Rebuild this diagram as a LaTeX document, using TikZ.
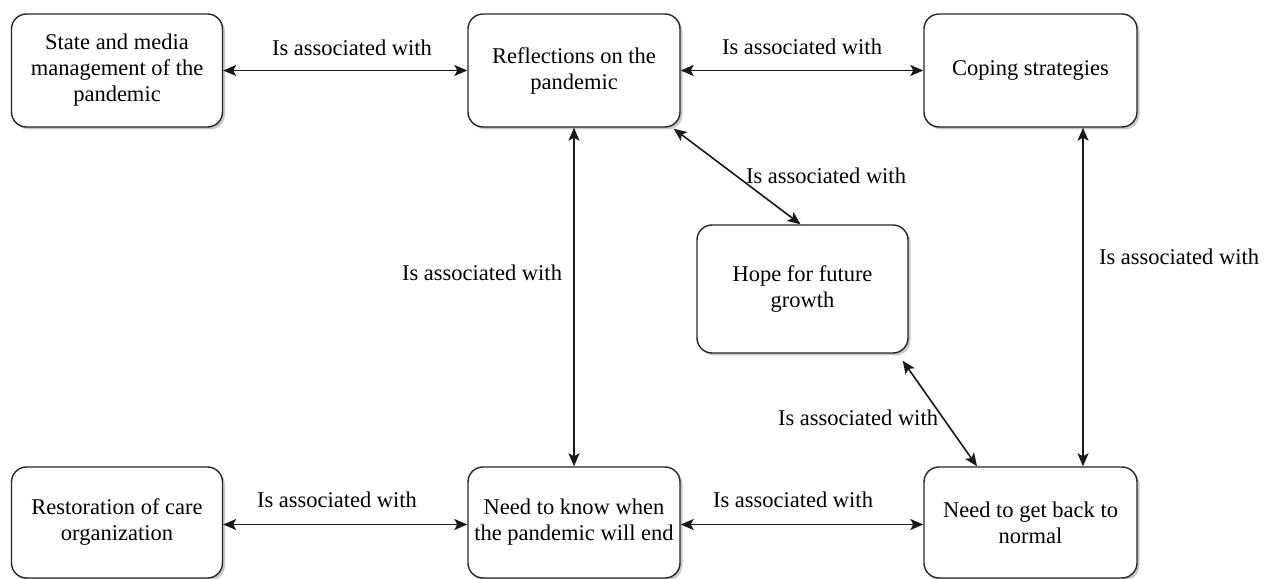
\documentclass[tikz,border=0pt]{standalone}
\usepackage{fontspec}
\setmainfont{Liberation Serif}
\newfontfamily\tnr{Liberation Serif}
\usetikzlibrary{arrows.meta,shadows,calc}
\begin{document}
\begin{tikzpicture}[x=1pt,y=1pt,
  every node/.style={font=\tnr\fontsize{22.5}{26}\selectfont},
  box/.style={draw=black!85, line width=1.4pt, rounded corners=15pt, fill=white,
    align=center, inner sep=0pt, minimum width=211pt, minimum height=113pt,
    drop shadow={shadow xshift=2.5pt, shadow yshift=-2.5pt, opacity=0.35, fill=black!60}},
  lbl/.style={inner sep=1pt},
  conn/.style={line width=1.6pt, draw=black!90,
    {Stealth[length=13pt,width=11pt,inset=3pt]}-{Stealth[length=13pt,width=11pt,inset=3pt]}}
]
\useasboundingbox (0,0) rectangle (1271,578);
\fill[white] (0,0) rectangle (1271,578);

\node[box] (b1) at (117,507.5) {State and media\\management of the\\pandemic};
\node[box, minimum width=212pt] (b2) at (574,507.5) {Reflections on the\\pandemic};
\node[box, minimum width=213pt] (b3) at (1030.5,507.5) {Coping strategies};
\node[box, minimum height=128pt] (hope) at (802.5,289) {Hope for future\\growth};
\node[box, minimum height=111pt] (b4) at (117,55.5) {Restoration of care\\organization};
\node[box, minimum width=212pt, minimum height=111pt] (b5) at (574,55.5) {Need to know when\\the pandemic will end};
\node[box, minimum width=213pt, minimum height=111pt] (b6) at (1030.5,55.5) {Need to get back to\\normal};

\draw[conn] (b1.east) -- (b2.west);
\draw[conn] (b2.east) -- (b3.west);
\draw[conn] ([yshift=-2pt]b4.east) -- ([yshift=-2pt]b5.west);
\draw[conn] ([yshift=-2pt]b5.east) -- ([yshift=-2pt]b6.west);
\draw[conn] (b2.south) -- (b5.north);
\draw[conn] ([xshift=52.5pt]b3.south) -- ([xshift=52.5pt]b6.north);
\draw[conn] ([xshift=-7pt,yshift=-1pt]b2.south east) -- ([xshift=-2pt]hope.north);
\draw[conn] ([xshift=-6pt,yshift=-7pt]hope.south east) -- ([xshift=-53.5pt]b6.north);

\node[lbl] (l1) at (352,530) {Is associated with};
\node[lbl] (l2) at (802,531) {Is associated with};
\node[lbl] (l3) at (482,305) {Is associated with};
\node[lbl] (l4) at (1179,321) {Is associated with};
\node[lbl] (l5) at (826,402) {Is associated with};
\node[lbl] (l6) at (858,160) {Is associated with};
\node[lbl] (l7) at (337,78) {Is associated with};
\node[lbl] (l8) at (793,78) {Is associated with};
\end{tikzpicture}
\end{document}
